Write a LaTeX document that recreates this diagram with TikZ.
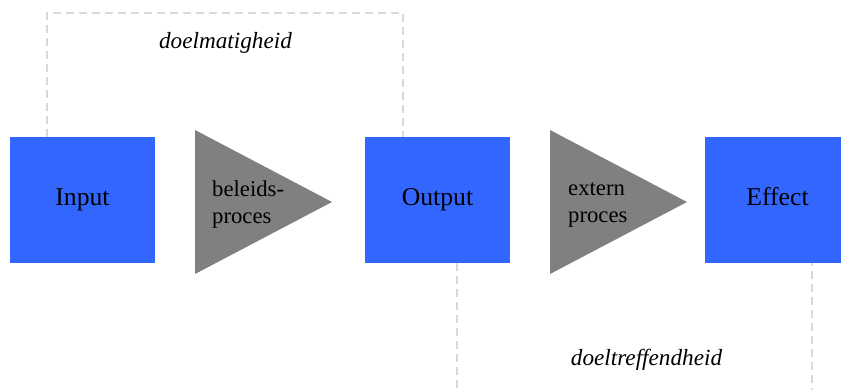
\documentclass[tikz,border=0pt]{standalone}
\usepackage{fontspec}
\setmainfont{Liberation Serif}

\definecolor{boxblue}{HTML}{3366FF}
\definecolor{stepgray}{HTML}{808080}
\definecolor{lightline}{HTML}{D9D9D9}

\begin{document}
\begin{tikzpicture}[x=1pt,y=1pt,
    blok/.style={fill=boxblue,minimum width=145pt,minimum height=126pt,inner sep=0pt,
        text height=17pt,text depth=5.5pt,font=\fontsize{25.7}{30}\selectfont},
    pijltekst/.style={anchor=west,align=left,inner sep=0pt,
        font=\fontsize{22.7}{27}\selectfont},
    maat/.style={inner sep=0pt,font=\fontsize{23.2}{27}\selectfont\itshape},
    dashline/.style={draw=lightline,line width=2.4pt,dash pattern=on 8pt off 5pt}]
    \clip (0,0) rectangle (841,389);
    %\draw[step=10pt,gray,very thin] (0,0) grid (841,389);
    \node[blok] (input) at (82.5,189) {Input};
    \node[blok] (output) at (437.5,189) {Output};
    \node[blok] (effect) at (777.5,189) {Effect};
    \fill[stepgray] (195,259) -- (332,187) -- (195,115) -- cycle;
    \fill[stepgray] (550,259) -- (687,187) -- (550,115) -- cycle;
    \node[pijltekst] (beleid) at (212,184) {beleids-\\proces};
    \node[pijltekst] (extern) at (568,184) {extern\\proces};
    \coordinate (ceiling) at (0,376);
    \coordinate (floor) at (0,-10);
    \coordinate (inTop) at ([xshift=37pt]input.north west);
    \coordinate (outTop) at ([xshift=38pt]output.north west);
    \coordinate (outBot) at ([xshift=92pt]output.south west);
    \coordinate (effBot) at ([xshift=107pt]effect.south west);
    \draw[dashline] (inTop) -- (inTop |- ceiling) -| (outTop);
    \draw[dashline] (outBot) -- (outBot |- floor) -| (effBot);
    \node[maat] (doelmatig) at (225.5,346.4) {doelmatigheid};
    \node[maat] (doeltreffend) at (646.5,29.4) {doeltreffendheid};
\end{tikzpicture}
\end{document}
